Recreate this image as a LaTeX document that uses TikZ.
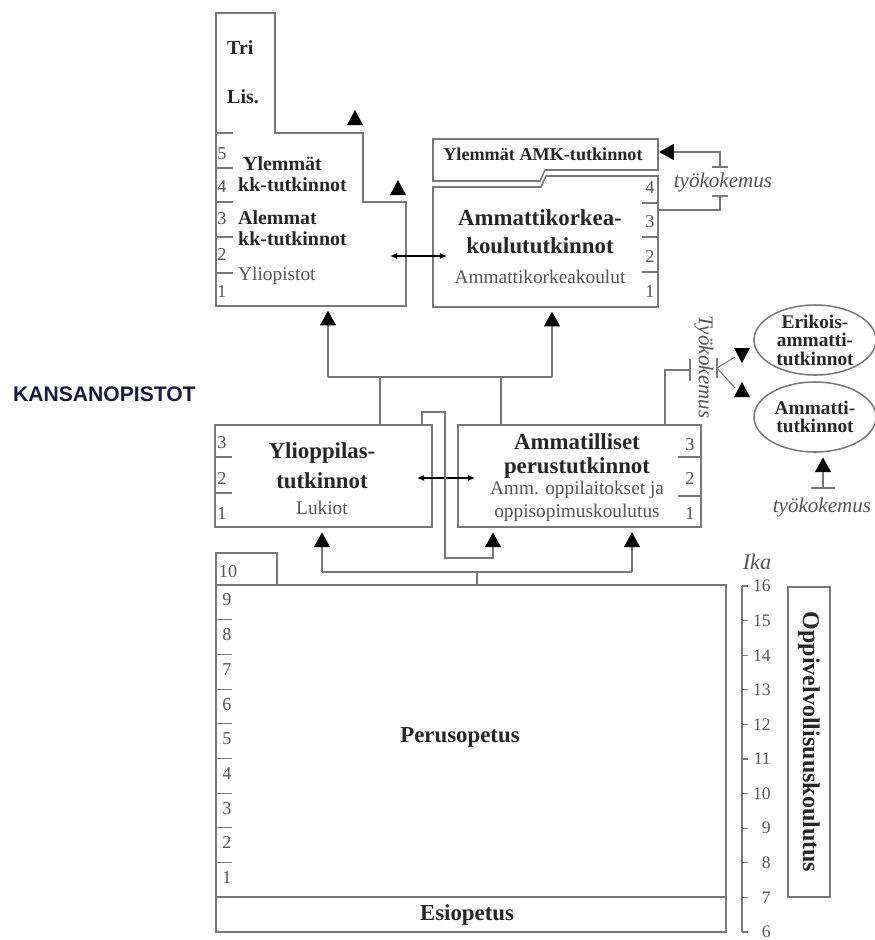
\documentclass[tikz,border=0pt]{standalone}
\usepackage{fontspec}
\setmainfont{Liberation Serif}
\newfontfamily\kansafont{Liberation Sans}
\usetikzlibrary{arrows.meta,fit,shapes.geometric}

\definecolor{linegray}{RGB}{120,120,120}
\definecolor{txtgray}{RGB}{85,85,85}
\definecolor{kansablue}{RGB}{25,25,70}

\newcommand\ttlfont[1][24]{\fontsize{19.5}{#1}\selectfont\bfseries}
\newcommand\midfont{\fontsize{17}{17.5}\selectfont\bfseries}
\newcommand\subfont[1][19.6]{\fontsize{16.5}{#1}\selectfont}
\newcommand\numfont{\fontsize{15.5}{17}\selectfont}
\newcommand\tyofont{\fontsize{18}{20}\selectfont\itshape}
\newcommand\oppifont{\fontsize{20.5}{22}\selectfont\bfseries}
\def\uptri(#1,#2){\fill[black] (#1-8,#2+7) -- (#1+8,#2+7) -- (#1,#2-8) -- cycle;}
\def\dntri(#1,#2){\fill[black] (#1-8,#2-7) -- (#1+8,#2-7) -- (#1,#2+8) -- cycle;}

\tikzset{
  box/.style={draw=linegray, line width=1.3pt, inner sep=0pt},
  ell/.style={draw=linegray, line width=1.3pt, ellipse, inner sep=0pt,
    minimum width=3.66cm, minimum height=2.1cm},
  conn/.style={draw=linegray, line width=1.3pt},
  tick/.style={draw=linegray, line width=0.9pt},
  arr/.style={conn, shorten >=4pt, -{Triangle[width=13.5pt,length=12.5pt,color=black]}},
  dbl/.style={draw=black, line width=0.9pt, {Latex[length=6pt,width=5pt]}-{Latex[length=6pt,width=5pt]}},
  ttl/.style={font=\ttlfont, align=center, inner sep=0pt, text=black!85},
  midtxt/.style={font=\midfont, inner sep=0pt, text=black!85},
  subtxt/.style={font=\subfont, align=center, inner sep=0pt, text=txtgray},
  numtxt/.style={font=\numfont, inner sep=0pt, text=txtgray},
  tyotxt/.style={font=\tyofont, inner sep=0pt, text=txtgray},
  etxt/.style={font={\fontsize{16.5}{15.8}\selectfont\bfseries},
    align=center, inner sep=0pt, text=black!85}
}

\begin{document}
\begin{tikzpicture}[x=0.03cm, y=-0.03cm]
  \useasboundingbox (0,0) rectangle (875,940);

  %%%%% HIGHER EDUCATION %%%%%
  \draw[conn] (216,13) -- (275,13) -- (275,133) -- (363,133) -- (363,202)
    -- (406,202) -- (406,306) -- (216,306) -- cycle;
  \coordinate (uniSE) at (406,306);
  \foreach \yy in {133,168,202,237,273} \draw[tick] (216,\yy) -- +(17,0);
  \foreach \n/\yy in {5/154,4/187,3/219,2/254,1/291}
    \node[numtxt] (u\n) at (222,\yy) {\n};
  \node[midtxt, anchor=west] (tri) at (227,48) {Tri};
  \node[midtxt, anchor=west] (lis) at (227,97) {Lis.};
  \node[midtxt, anchor=west, align=left] (ylkk) at (238,174) {\ Ylemmät\\kk-tutkinnot};
  \node[midtxt, anchor=west, align=left] (alkk) at (238,228) {Alemmat\\kk-tutkinnot};
  \node[subtxt, anchor=west] (yliop) at (238,276) {Yliopistot};
  \uptri(355,118)
  \uptri(398,188)

  \draw[conn] (433,139) -- (658,139) -- (658,170) -- (545,170) -- (540,181)
    -- (433,181) -- cycle;
  \draw[conn] (433,187) -- (541,187) -- (546,176) -- (658,176) -- (658,307)
    -- (433,307) -- cycle;
  \coordinate (amkSE) at (658,307);
  \coordinate (amkNE) at (658,139);
  \node[midtxt, font={\fontsize{15.5}{16}\selectfont\bfseries}]
    (ylamk) at (543,154) {Ylemmät AMK-tutkinnot};
  \foreach \yy in {203,237,272} \draw[tick] (642,\yy) -- +(16,0);
  \foreach \n/\yy in {4/188,3/222,2/256,1/291}
    \node[numtxt] (a\n) at (650,\yy) {\n};
  \node[ttl] (amkT) at (540,232) {Ammattikorkea-\\koulututkinnot};
  \node[subtxt] (amkS) at (540,277) {Ammattikorkeakoulut};

  \coordinate (dA) at (390,256);
  \coordinate (dB) at (447,256);
  \draw[dbl] (dA) -- (dB);

  %%%%% SECONDARY %%%%%
  \node[box, fit={(215,425) (432,527)}] (yo) {};
  \foreach \yy in {457,493} \draw[tick] (215,\yy) -- +(17,0);
  \foreach \n/\yy in {3/443,2/478,1/513}
    \node[numtxt] (l\n) at (222,\yy) {\n};
  \node[ttl, font={\ttlfont[25.6]}] (yoT) at (322,466) {Ylioppilas-\\tutkinnot};
  \node[subtxt] (yoS) at (322,508) {Lukiot};

  \node[box, fit={(458,425) (701,527)}] (amp) {};
  \foreach \yy in {457,496} \draw[tick] (678,\yy) -- +(23,0);
  \foreach \n/\yy in {3/445,2/478,1/513}
    \node[numtxt] (p\n) at (690,\yy) {\n};
  \node[ttl, font={\ttlfont[20.5]}] (ampT) at (577,456) {Ammatilliset\\perustutkinnot};
  \node[subtxt] (ampS) at (577,501) {Amm. oppilaitokset ja\\oppisopimuskoulutus};

  \coordinate (dC) at (417,478);
  \coordinate (dD) at (475,478);
  \draw[dbl] (dC) -- (dD);

  \node[font={\kansafont\fontsize{18}{20}\selectfont\bfseries},
    text=kansablue, anchor=west, inner sep=0pt] (kansa) at (13,394) {KANSANOPISTOT};

  % upward links
  \coordinate (jl) at (328,377);
  \coordinate (jr) at (552,377);
  \coordinate (jyo) at (380,377);
  \coordinate (jamp) at (501,377);
  \draw[conn] (jl) -- (jr);
  \draw[arr] (jl) -- (jl |- uniSE);
  \draw[arr] (jr) -- (jr |- amkSE);
  \draw[conn] (jyo |- yo.north) -- (jyo);
  \draw[conn] (jamp |- amp.north) -- (jamp);

  %%%%% BASIC EDUCATION %%%%%
  \node[box, fit={(216,585) (726,897)}] (perus) {};
  \node[box, fit={(216,553) (277,585)}] (ten) {};
  \node[box, fit={(216,897) (726,932)}] (esi) {};
  \foreach \k in {1,...,8} \draw[tick] (216,{585+34.7*\k}) -- +(16,0);
  \foreach \n in {1,...,9}
    \node[numtxt] (g\n) at (227,{895-34.7*(\n-0.5)}) {\n};
  \node[numtxt] (g10) at (228,572) {10};
  \node[ttl] (perusT) at (460,737) {Perusopetus};
  \node[ttl] (esiT) at (467,915) {Esiopetus};

  \coordinate (jb) at (477,572);
  \coordinate (jbl) at (322,572);
  \coordinate (jbr) at (632,572);
  \draw[conn] (jb |- perus.north) -- (jb);
  \draw[conn] (jbl) -- (jbr);
  \draw[arr] (jbl) -- (jbl |- yo.south);
  \draw[arr] (jbr) -- (jbr |- amp.south);

  \coordinate (kb1) at (422,412);
  \coordinate (kb2) at (445,558);
  \coordinate (kb3) at (493,558);
  \draw[arr] (kb1 |- yo.north) -- (kb1) -| (kb2) -- (kb3) -- (kb3 |- amp.south);

  %%%%% WORK EXPERIENCE %%%%%
  \coordinate (ta) at (720,152);
  \coordinate (tb) at (720,167);
  \coordinate (tc) at (720,196);
  \coordinate (td) at (720,210);
  \draw[arr, shorten >=1pt] (tb) -- (ta) -- (ta -| amkNE);
  \draw[conn] (tc) -- (td) -- (td -| amkSE);
  \draw[conn] (712,167) -- (728,167);
  \draw[conn] (712,196) -- (728,196);
  \node[tyotxt] (tyo1) at (723,182) {työkokemus};

  \node[ell] (erik) at (815,340) {};
  \node[etxt] (erikT) at (erik) {Erikois-\\ammatti-\\tutkinnot};
  \node[ell] (amt) at (815,417) {};
  \node[etxt] (amtT) at (amt) {Ammatti-\\tutkinnot};

  \coordinate (tv) at (665,370);
  \coordinate (tx) at (690,370);
  \coordinate (ty) at (717,368);
  \draw[conn] (tv |- amp.north) -- (tv) -- (tx);
  \draw[conn] (690,359) -- (690,381);
  \draw[conn] (717,358) -- (717,378);
  \node[tyotxt, rotate=-90] (tyo2) at (704,367) {Työkokemus};
  \draw[tick] (ty) -- (735,357);
  \draw[tick] (ty) -- (735,388);
  \dntri(742,355)
  \uptri(742,390)

  \coordinate (tw) at (823,488);
  \draw[arr] (tw) -- (tw |- amt.south);
  \draw[conn] (811,488) -- (835,488);
  \node[tyotxt] (tyo3) at (822,507) {työkokemus};

  %%%%% AGE SCALE %%%%%
  \node[tyotxt, font={\fontsize{19}{20}\selectfont\itshape}] (ika) at (757,562) {Ika};
  \draw[tick] (742,586) -- (742,932);
  \foreach \a in {6,...,16} {
    \draw[tick] (742,{586+34.6*(16-\a)}) -- +(6,0);
    \node[numtxt, font={\fontsize{15}{17}\selectfont}, anchor=east] (age\a)
      at (771,{586+34.6*(16-\a)}) {\a};
  }

  \node[box, fit={(788,587) (830,897)}] (oppi) {};
  \node[font=\oppifont, rotate=-90, inner sep=0pt, text=black!85] (oppiT) at (oppi) {Oppivelvollisuuskoulutus};
\end{tikzpicture}
\end{document}
